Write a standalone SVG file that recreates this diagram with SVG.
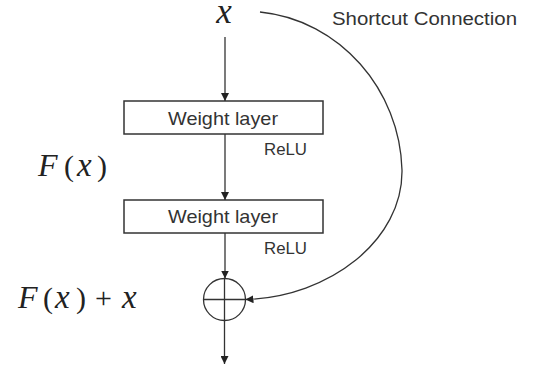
<svg xmlns="http://www.w3.org/2000/svg" width="535" height="367" viewBox="0 0 535 367">
  <defs>
    <marker id="arr" viewBox="0 0 10 10" refX="10" refY="5" markerWidth="8" markerHeight="8" markerUnits="userSpaceOnUse" orient="auto">
      <path d="M0,0 L10,5 L0,10 Z" fill="#222"/>
    </marker>
    <style>
      .box{fill:#fff;stroke:#333;stroke-width:1.5}
      .ln{fill:none;stroke:#333;stroke-width:1.3}
      .lbl{font-family:"Liberation Sans",Arial,sans-serif;fill:#333}
      .math{font-family:"Liberation Serif","Times New Roman",serif;fill:#222;font-size:30px}
      .it{font-style:italic;font-size:32px}
      .vx{font-style:italic;font-size:33px}
    </style>
  </defs>
  <rect width="535" height="367" fill="#fff"/>
  <g id="input">
    <text class="math" x="224" y="23" font-style="italic" text-anchor="middle" style="font-size:35px">x</text>
  </g>
  <g id="weight1">
    <rect class="box" x="124" y="101" width="199" height="33"/>
    <text class="lbl" x="168" y="125" font-size="18.5" textLength="110" lengthAdjust="spacingAndGlyphs">Weight layer</text>
  </g>
  <g id="relu1"><text class="lbl" x="264" y="155" font-size="17" textLength="43" lengthAdjust="spacingAndGlyphs">ReLU</text></g>
  <g id="weight2">
    <rect class="box" x="124" y="200" width="199" height="33"/>
    <text class="lbl" x="168" y="223" font-size="18.5" textLength="110" lengthAdjust="spacingAndGlyphs">Weight layer</text>
  </g>
  <g id="relu2"><text class="lbl" x="264" y="254" font-size="17" textLength="43" lengthAdjust="spacingAndGlyphs">ReLU</text></g>
  <g id="fx-label">
    <text class="math" y="176"><tspan class="it" x="38">F</tspan><tspan x="64">(</tspan><tspan class="vx" x="77">x</tspan><tspan x="97">)</tspan></text>
  </g>
  <g id="sum-label">
    <text class="math" y="308"><tspan class="it" x="18">F</tspan><tspan x="43">(</tspan><tspan class="vx" x="55">x</tspan><tspan x="76">)</tspan><tspan x="95">+</tspan><tspan class="vx" x="122">x</tspan></text>
  </g>
  <g id="shortcut-label">
    <text class="lbl" x="332" y="25" font-size="18" textLength="185" lengthAdjust="spacingAndGlyphs">Shortcut Connection</text>
  </g>
  <g id="sum">
    <circle class="ln" cx="224.5" cy="299.5" r="21"/>
    <line class="ln" x1="203.5" y1="299.5" x2="245.5" y2="299.5"/>
    <line class="ln" x1="224.5" y1="278.5" x2="224.5" y2="320.5"/>
  </g>
  <g id="connectors">
    <line class="ln" x1="225" y1="37" x2="225" y2="101" marker-end="url(#arr)"/>
    <line class="ln" x1="225" y1="134" x2="225" y2="200" marker-end="url(#arr)"/>
    <line class="ln" x1="225" y1="233" x2="225" y2="278.5" marker-end="url(#arr)"/>
    <line class="ln" x1="224.5" y1="320.5" x2="224.5" y2="364" marker-end="url(#arr)"/>
    <path class="ln" d="M260,12 C340,20 400,90 402,170 C403,240 330,297 245.5,299.5" marker-end="url(#arr)"/>
  </g>
</svg>
